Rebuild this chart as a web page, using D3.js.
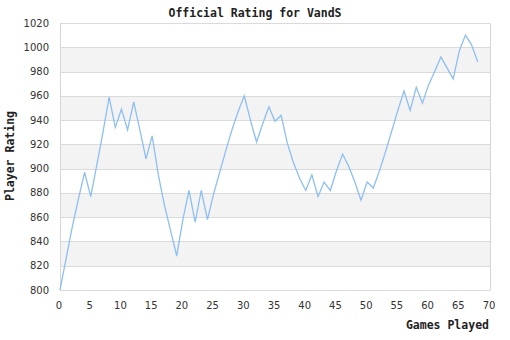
<!DOCTYPE html>
<html><head><meta charset="utf-8">
<script src="https://cdn.jsdelivr.net/npm/d3@7"></script>
<style>body{margin:0;background:#fff}svg{display:block}</style>
</head><body>
<script>
const titleText = "Official Rating for VandS";
const xTitle = "Games Played";
const yTitle = "Player Rating";
const games = d3.range(0, 69);
const ratings = [800,826,852,875,897,877,903,930,959,934,949,932,955,932,908,927,895,870,849,828,
858,882,856,882,858,879,897,915,932,947,960,940,922,937,951,939,944,921,905,892,
882,895,877,889,882,898,912,902,889,874,889,884,898,914,931,948,964,948,967,954,
969,980,992,983,974,997,1010,1002,988];
const xTicks = [0,5,10,15,20,25,30,35,40,45,50,55,60,65,70];
const yTicks = [800,820,840,860,880,900,920,940,960,980,1000,1020];

const W = 510, H = 340;
const svg = d3.select("body").append("svg").attr("width", W).attr("height", H);
const x = d3.scaleLinear().domain([0, 70]).range([60, 490]);
const y = d3.scaleLinear().domain([800, 1020]).range([290, 23]);
const py = v => Math.round(y(v)) + 0.5;

// bands
const bands = yTicks.slice(0, -1).filter((d, i) => i % 2 === 1);
svg.selectAll("rect.band").data(bands).enter().append("rect")
  .attr("x", x(0)).attr("width", x(70) - x(0))
  .attr("y", d => py(d + 20)).attr("height", d => py(d) - py(d + 20))
  .attr("fill", "#f3f3f3");

// grid
svg.selectAll("line.grid").data(yTicks).enter().append("line")
  .attr("x1", x(0)).attr("x2", x(70)).attr("y1", py).attr("y2", py)
  .attr("stroke", "#dadada").attr("stroke-width", 1);
// frame sides
svg.append("line").attr("x1", x(0)+0.5).attr("x2", x(0)+0.5).attr("y1", py(1020)).attr("y2", py(800)).attr("stroke", "#d6d6d6");
svg.append("line").attr("x1", x(70)+0.5).attr("x2", x(70)+0.5).attr("y1", py(1020)).attr("y2", py(800)).attr("stroke", "#d6d6d6");

// y labels
svg.selectAll("text.yl").data(yTicks).enter().append("text")
  .attr("x", 49).attr("y", d => y(d) + 3.5).attr("text-anchor", "end")
  .attr("font-family", "DejaVu Sans").attr("font-size", 10).attr("fill", "#333")
  .text(d => d);
// x labels
svg.selectAll("text.xl").data(xTicks).enter().append("text")
  .attr("x", d => x(d) - 1).attr("y", 308.5).attr("text-anchor", "middle")
  .attr("font-family", "DejaVu Sans").attr("font-size", 10).attr("fill", "#333")
  .text(d => d);

// line
const line = d3.line().x((d, i) => x(games[i])).y(d => y(d));
svg.append("path").datum(ratings).attr("d", line)
  .attr("fill", "none").attr("stroke", "#8dbff2").attr("stroke-width", 1.3)
  .attr("stroke-linejoin", "miter");

// titles
const tf = "'DejaVu Sans Mono', monospace";
svg.append("text").attr("x", 255).attr("y", 17).attr("text-anchor", "middle")
  .attr("font-family", tf).attr("font-weight", "bold").attr("font-size", 11.5).attr("fill", "#222")
  .text(titleText);
svg.append("text").attr("x", 489).attr("y", 329).attr("text-anchor", "end")
  .attr("font-family", tf).attr("font-weight", "bold").attr("font-size", 11.5).attr("fill", "#222")
  .text(xTitle);
svg.append("text").attr("transform", "translate(14,156) rotate(-90)").attr("text-anchor", "middle")
  .attr("font-family", tf).attr("font-weight", "bold").attr("font-size", 11.5).attr("fill", "#222")
  .text(yTitle);
</script>
</body></html>
